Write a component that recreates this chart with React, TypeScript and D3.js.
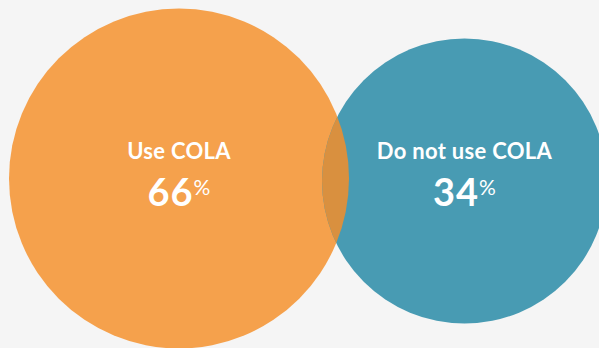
import React from "react";
import * as d3 from "d3";

const categories = ["Use COLA", "Do not use COLA"];
const values = [66, 34];
const colors = ["#F5A14C", "#489BB3"];
const overlapColor = "#D9903F";

const W = 599;
const H = 348;

export default function App() {
  const r = d3.scaleLinear().domain([34, 66]).range([142.5, 170]);
  const r0 = r(values[0]);
  const r1 = r(values[1]);
  const cx0 = 9 + r0;
  const cx1 = cx0 + r0 + r1 - 27;
  const cy0 = 178.5;
  const cy1 = 181;
  const circles = [
    { cx: cx0, cy: cy0, r: r0 },
    { cx: cx1, cy: cy1, r: r1 },
  ];
  return (
    <div style={{ position: "fixed", left: 0, top: 0, width: W, height: H }}>
      <svg width={W} height={H} style={{ display: "block", background: "#F5F5F5" }}>
        <defs>
          <clipPath id="clipA">
            <circle cx={circles[0].cx} cy={circles[0].cy} r={circles[0].r} />
          </clipPath>
        </defs>
        {circles.map((c, i) => (
          <circle key={i} cx={c.cx} cy={c.cy} r={c.r} fill={colors[i]} />
        ))}
        <circle
          cx={circles[1].cx}
          cy={circles[1].cy}
          r={circles[1].r}
          fill={overlapColor}
          clipPath="url(#clipA)"
        />
        {circles.map((c, i) => (
          <g key={"t" + i} fontFamily="Lato, 'Open Sans', sans-serif" fontWeight="bold" fill="#FFFFFF">
            <text x={c.cx} y={159} textAnchor="middle" fontSize={22} letterSpacing={0.3}>
              {categories[i]}
            </text>
            <text x={c.cx + 14.5} y={206} textAnchor="end" fontSize={38} letterSpacing={1}>
              {values[i]}
            </text>
            <text x={c.cx + 14.5} y={195} textAnchor="start" fontSize={21} fontWeight="normal">
              %
            </text>
          </g>
        ))}
      </svg>
    </div>
  );
}
